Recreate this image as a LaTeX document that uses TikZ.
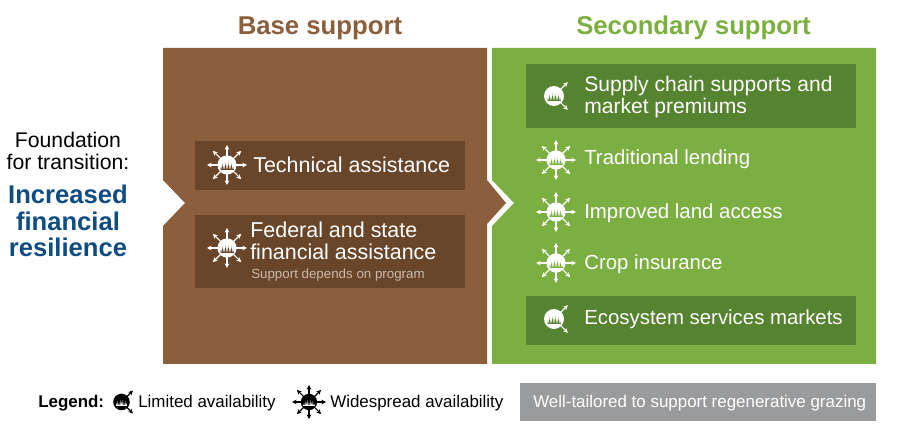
\documentclass[tikz,border=0pt]{standalone}
\usepackage{fontspec}
\setmainfont{Liberation Sans}
\usetikzlibrary{arrows.meta}
\definecolor{soilbrown}{HTML}{8B5E3C}
\definecolor{soildark}{HTML}{69452A}
\definecolor{leafgreen}{HTML}{7CAF42}
\definecolor{leafdark}{HTML}{55832F}
\definecolor{titleblue}{HTML}{0F4C81}
\definecolor{legendgrey}{HTML}{9A9B9D}
\definecolor{smalltext}{HTML}{C9B9A9}
\begin{document}
\begin{tikzpicture}[x=0.75pt, y=-0.75pt]
      \tikzset{
	  headline/.style={font=\fontsize{19.3}{23}\selectfont\bfseries, anchor=center},
	  supportlabel/.style={font=\fontsize{16.1}{16.5}\selectfont, text=white, anchor=west, align=left, inner sep=0pt},
	  greenlabel/.style={supportlabel, font=\fontsize{15.3}{16.5}\selectfont},
	  legendlabel/.style={font=\fontsize{12.7}{16}\selectfont, anchor=west, inner sep=0pt},
	  leftlabel/.style={font=\fontsize{15.9}{16.5}\selectfont, align=center, anchor=center, inner sep=0pt},
	  grassmark/.pic={\foreach \gx/\gh in {-6/3,-4.5/6,-3/4,-1.5/7,0/5,1.5/7,3/4,4.5/6,6/3}
	      \fill[pic actions] (\gx-0.7,4.5) -- (\gx,4.5-\gh) -- (\gx+0.7,4.5) -- cycle;
	      \fill[pic actions] (-6.5,3.6) rectangle (6.5,4.8);},
	  pics/wideicon/.style n args={3}{code={
	      \foreach \a in {0,45,...,315}
	      \draw[#1, line width=0.8pt, -{Stealth[length=3.5pt,width=3.5pt]}] (\a:#3*0.4) -- (\a:#3);
	      \fill[#1] (0,0) circle[radius=#3*0.48];
	      \pic[#2, scale=#3/20] {grassmark};}},
	  pics/limiticon/.style n args={3}{code={
	      \draw[#1, line width=0.8pt, -{Stealth[length=3.5pt,width=3.5pt]}] (0,0) -- (-45:#3*1.95);
	      \draw[#1, line width=0.8pt, -{Stealth[length=3.5pt,width=3.5pt]}] (0,0) -- (45:#3*1.95);
	      \fill[#1] (0,0) circle[radius=#3];
	      \pic[#2, scale=#3/10] {grassmark};}}
      }

      \useasboundingbox (0,0) rectangle (900,434);

      \def\brownpath{(163,48) -- (487,48) -- (487,180) -- (506,203) -- (487,224) -- (487,364) -- (163,364) -- (163,226) -- (185,203) -- (163,180) -- cycle}
      \def\greenpath{(492,48) -- (876,48) -- (876,364) -- (492,364) -- (492,226) -- (514,203) -- (492,180) -- cycle}

      \fill[soilbrown] \brownpath;
      \fill[leafgreen] \greenpath;

      \node[headline, text=soilbrown] (basetitle) at (320,28) {Base support};
      \node[headline, text=leafgreen] (secondarytitle) at (693.5,28) {Secondary support};

      % left side
      \node[leftlabel] (foundation) at (68,151) {Foundation\\for transition:};
      \node[leftlabel, font=\fontsize{19.2}{19.9}\selectfont\bfseries, text=titleblue] (resilience) at (68,221) {Increased\\financial\\resilience};

      % base support
      \fill[soildark] (195,141) rectangle (465,190);
      \fill[soildark] (195,215) rectangle (465,288);
      \pic at (227,165) {wideicon={white}{soildark}{20}};
      \pic at (227,248) {wideicon={white}{soildark}{20}};
      \node[supportlabel] (technical) at (253,165) {Technical assistance};
      \node[supportlabel] (federal) at (250,241) {Federal and state\\financial assistance};
      \node[legendlabel, font=\fontsize{10}{12}\selectfont, text=smalltext] (program) at (251,275.5) {Support depends on program};

      % secondary support
      \fill[leafdark] (526,64) rectangle (856,128);
      \fill[leafdark] (526,296) rectangle (856,345);
      \pic at (554,96) {limiticon={white}{leafdark}{10}};
      \pic at (554,319) {limiticon={white}{leafdark}{10}};
      \foreach \iy in {160,212,263}
	  \pic at (556,\iy) {wideicon={white}{leafgreen}{20}};
      \node[supportlabel, font=\fontsize{15.8}{16.5}\selectfont] (supply) at (584,97) {Supply chain supports and\\market premiums};
      \node[greenlabel] (lending) at (584,159) {Traditional lending};
      \node[greenlabel] (land) at (584,213) {Improved land access};
      \node[greenlabel] (crop) at (584,264) {Crop insurance};
      \node[greenlabel] (ecosystem) at (584,319) {Ecosystem services markets};

      % legend
      \node[legendlabel, font=\fontsize{12.7}{16}\selectfont\bfseries] (legend) at (38,403.5) {Legend:};
      \pic at (121.5,402) {limiticon={black}{white}{8.3}};
      \node[legendlabel] (limited) at (138,403.5) {Limited availability};
      \pic at (309,402) {wideicon={black}{white}{17}};
      \node[legendlabel] (widespread) at (330,403.5) {Widespread availability};
      \fill[legendgrey] (520,383) rectangle (876,421);
      \node[legendlabel, text=white] (tailored) at (533,403.5) {Well-tailored to support regenerative grazing};
    \end{tikzpicture}
\end{document}
